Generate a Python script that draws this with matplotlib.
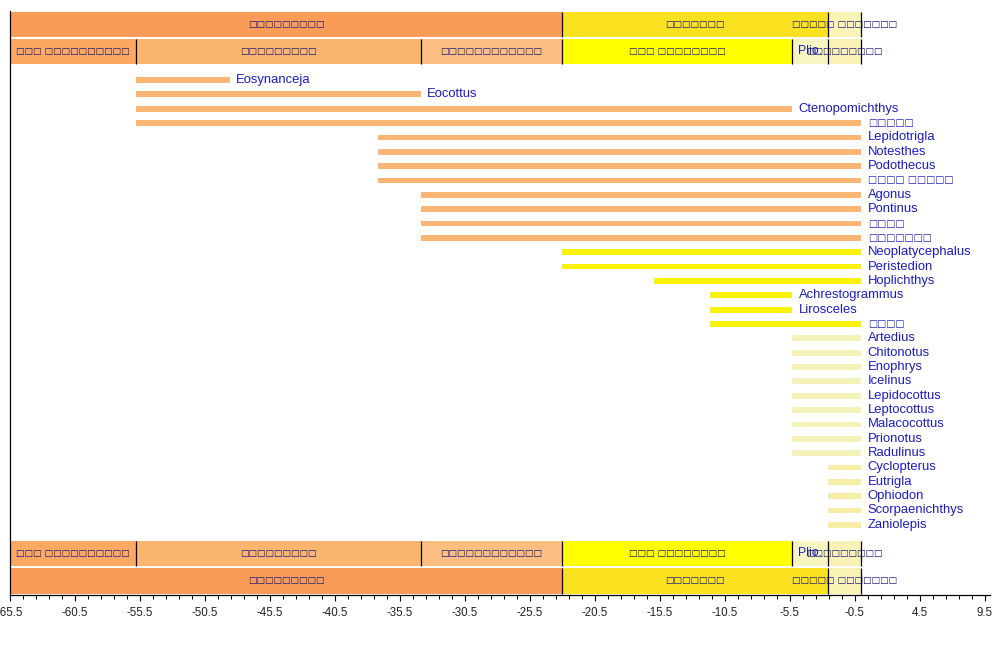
import matplotlib
matplotlib.use("Agg")
import matplotlib.pyplot as plt
import numpy as np

plt.rcParams['font.family'] = ['Liberation Sans', 'DejaVu Sans']

# taxa, first and last appearance (Ma, negative = ago)
genera = ["Eosynanceja", "Eocottus", "Ctenopomichthys", "□□□□□",
          "Lepidotrigla", "Notesthes", "Podothecus", "□□□□ □□□□□",
          "Agonus", "Pontinus", "□□□□", "□□□□□□□",
          "Neoplatycephalus", "Peristedion", "Hoplichthys", "Achrestogrammus",
          "Lirosceles", "□□□□", "Artedius", "Chitonotus", "Enophrys",
          "Icelinus", "Lepidocottus", "Leptocottus", "Malacocottus",
          "Prionotus", "Radulinus", "Cyclopterus", "Eutrigla", "Ophiodon",
          "Scorpaenichthys", "Zaniolepis"]
starts = [-55.8, -55.8, -55.8, -55.8,
          -37.2, -37.2, -37.2, -37.2,
          -33.9, -33.9, -33.9, -33.9,
          -23.03, -23.03, -15.97, -11.608,
          -11.608, -11.608, -5.332, -5.332, -5.332,
          -5.332, -5.332, -5.332, -5.332,
          -5.332, -5.332, -2.588, -2.588, -2.588,
          -2.588, -2.588]
ends = [-48.6, -33.9, -5.332, 0,
        0, 0, 0, 0,
        0, 0, 0, 0,
        0, 0, 0, -5.332,
        -5.332, 0, 0, 0, 0,
        0, 0, 0, 0,
        0, 0, 0, 0, 0,
        0, 0]
# colour group of each bar = epoch of first appearance
groups = ["paleo"] * 12 + ["mio"] * 6 + ["plio"] * 9 + ["pleist"] * 5
group_colors = {"paleo": "#FBB676", "mio": "#FBF20C", "plio": "#F4F2B8", "pleist": "#F8EDA6"}

period_names = ["□□□□□□□□□", "□□□□□□□", "□□□□□ □□□□□□□"]
period_bounds = [-65.5, -23.03, -2.588, 0.0]
period_colors = ["#FA9B58", "#F9E11F", "#FAF3B6"]

epoch_names = ["□□□ □□□□□□□□□□", "□□□□□□□□□", "□□□□□□□□□□□□",
               "□□□ □□□□□□□□", "Plio.", "□□□□□□□□□"]
epoch_bounds = [-65.5, -55.8, -33.9, -23.03, -5.332, -2.588, 0.0]
epoch_colors = ["#FBA862", "#FCB56F", "#FBBE80", "#FFFF00", "#F7F6C0", "#FAF1B6"]

major_ticks = np.arange(-65.5, 10, 5)
minor_ticks = np.arange(-65.5, 10, 1)

fig = plt.figure(figsize=(10, 6.45), dpi=100)
ax = fig.add_axes([0.01, 50 / 645, 0.98, 584 / 645])
ax.set_xlim(-65.5, 9.9)
ax.set_ylim(595, 11)  # vertical layout in pixel rows

box_col = "#14147a"
name_col = "#1c1cc0"


def band(y0, h, names, bounds, colors):
    for i, nm in enumerate(names):
        l, r = bounds[i], bounds[i + 1]
        ax.barh(y0 + h / 2, r - l, left=l, height=h, color=colors[i], lw=0, zorder=1)
        tofu = "□" in nm
        ax.text((l + r) / 2, y0 + h / 2, nm, ha='center', va='center',
                fontsize=6.5 if tofu else 8.8, color=box_col if tofu else name_col,
                family='DejaVu Sans' if tofu else 'Liberation Sans',
                fontweight='bold' if tofu else 'normal', zorder=4)
    ax.vlines(bounds[1:], y0, y0 + h, color='black', lw=0.9, zorder=3)


band(12, 25, period_names, period_bounds, period_colors)
band(39, 25, epoch_names, epoch_bounds, epoch_colors)
band(541, 25, epoch_names, epoch_bounds, epoch_colors)
band(568, 26, period_names, period_bounds, period_colors)

row_y = 80 + 14.35 * np.arange(len(genera))
for y, g, s, e, grp in zip(row_y, genera, starts, ends, groups):
    ax.barh(y, e - s, left=s, height=5.8, color=group_colors[grp], lw=0, zorder=2)
    tofu = "□" in g
    ax.text(e + 0.5, y, g, ha='left', va='center', color=name_col,
            fontsize=6.9 if tofu else 9.4,
            family='DejaVu Sans' if tofu else 'Liberation Sans',
            fontweight='bold' if tofu else 'normal', zorder=4)

for side in ['top', 'right']:
    ax.spines[side].set_visible(False)
ax.spines['left'].set_linewidth(0.9)
ax.spines['bottom'].set_linewidth(0.9)
ax.set_yticks([])
ax.set_xticks(major_ticks)
ax.set_xticks(minor_ticks, minor=True)
ax.set_xticklabels([f"{v:.1f}" for v in major_ticks], fontsize=8.3, color='#222222')
ax.tick_params(axis='x', which='major', length=4.5, width=0.8, pad=4)
ax.tick_params(axis='x', which='minor', length=3, width=0.7)

fig.savefig("out.png", dpi=100)
